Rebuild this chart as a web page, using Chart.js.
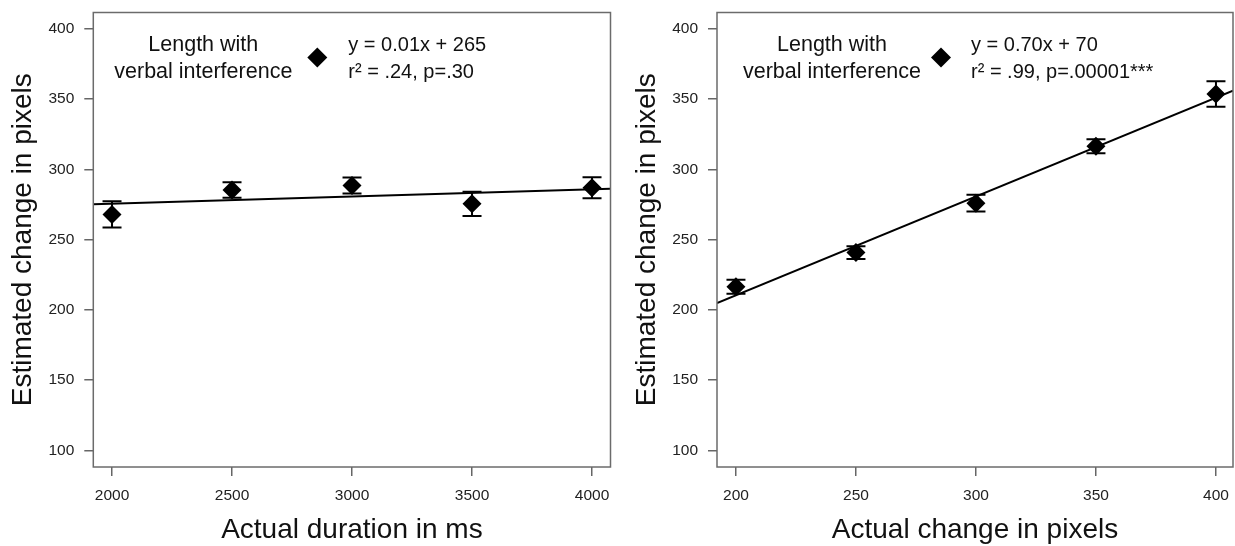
<!DOCTYPE html>
<html>
<head>
<meta charset="utf-8">
<script src="https://cdn.jsdelivr.net/npm/chart.js@4.4.1/dist/chart.umd.min.js"></script>
<style>
  body { margin: 0; background: #fff; }
  #wrap { position: relative; width: 1235px; height: 546px; }
  canvas { position: absolute; top: 0; }
</style>
</head>
<body>
<div id="wrap">
  <canvas id="durationChart" width="617" height="546" style="left:0"></canvas>
  <canvas id="pixelChart" width="618" height="546" style="left:617px"></canvas>
</div>
<script>
// Left panel - duration
const durationX = [2000, 2500, 3000, 3500, 4000];
const durationMean = [268, 285.4, 288.5, 275.5, 287];
const durationErr = [9.3, 5.5, 5.7, 8.7, 7.5];
const durationFitX = [1922, 4077];
const durationFitY = [275.2, 286.3];
const durationTicks = [2000, 2500, 3000, 3500, 4000];

// Right panel - length in pixels
const pixelX = [200, 250, 300, 350, 400];
const pixelMean = [216.5, 240.8, 276, 316.5, 353.7];
const pixelErr = [5, 4.5, 6, 5, 9];
const pixelFitX = [192.1, 407.1];
const pixelFitY = [204.8, 356];
const pixelTicks = [200, 250, 300, 350, 400];

// shared y axis
const estimateTicks = [100, 150, 200, 250, 300, 350, 400];

const legendLines = ['Length with', 'verbal interference'];
const durationEquation = ['y = 0.01x + 265', 'r\u00b2 = .24, p=.30'];
const pixelEquation = ['y = 0.70x + 70', 'r\u00b2 = .99, p=.00001***'];

Chart.defaults.font.family = '"Liberation Sans", Arial, Helvetica, sans-serif';
Chart.defaults.color = '#222';

const noPadding = () => ({ left: 0, top: 0, right: 0, bottom: 0 });

// error bars under the diamonds
const errorBars = {
    id: 'errorBars',
    beforeDatasetsDraw(chart) {
        const { ctx, scales: { x, y } } = chart;
        chart.data.datasets.forEach(ds => {
            if (!ds.errors) return;
            ctx.save();
            ctx.strokeStyle = '#000';
            ctx.lineWidth = 2;
            ds.data.forEach((p, i) => {
                const px = x.getPixelForValue(p.x);
                const top = y.getPixelForValue(p.y + ds.errors[i]);
                const bot = y.getPixelForValue(p.y - ds.errors[i]);
                ctx.beginPath();
                ctx.moveTo(px, top); ctx.lineTo(px, bot);
                ctx.moveTo(px - 9.5, top); ctx.lineTo(px + 9.5, top);
                ctx.moveTo(px - 9.5, bot); ctx.lineTo(px + 9.5, bot);
                ctx.stroke();
            });
            ctx.restore();
        });
    }
};

// box round the plot + the text legend
const frameAndLegend = {
    id: 'frameAndLegend',
    afterDraw(chart, args, opts) {
        const { ctx, chartArea: a } = chart;
        ctx.save();
        ctx.strokeStyle = '#6b6b6b';
        ctx.lineWidth = 1.5;
        ctx.strokeRect(a.left, a.top, a.right - a.left, a.bottom - a.top);

        ctx.fillStyle = '#111';
        ctx.textBaseline = 'middle';
        ctx.textAlign = 'center';
        ctx.font = '21.5px "Liberation Sans", Arial, sans-serif';
        ctx.fillText(legendLines[0], a.left + opts.textX, a.top + 32.5);
        ctx.fillText(legendLines[1], a.left + opts.textX, a.top + 59.5);
        ctx.textAlign = 'left';
        ctx.font = '20px "Liberation Sans", Arial, sans-serif';
        ctx.fillText(opts.equation[0], a.left + opts.eqX, a.top + 32.5);
        ctx.fillText(opts.equation[1], a.left + opts.eqX, a.top + 59.5);

        // diamond marker
        const mx = a.left + opts.markerX, my = a.top + 45, r = 10;
        ctx.fillStyle = '#000';
        ctx.beginPath();
        ctx.moveTo(mx, my - r);
        ctx.lineTo(mx + r, my);
        ctx.lineTo(mx, my + r);
        ctx.lineTo(mx - r, my);
        ctx.closePath();
        ctx.fill();
        ctx.restore();
    }
};

function makePanel(id, xs, means, errs, fitX, fitY, xTicks, xMin, xMax, xTitle, equation, axisWidth, titlePad, padRight, legendPos) {
    const points = xs.map((v, i) => ({ x: v, y: means[i] }));
    const fit = fitX.map((v, i) => ({ x: v, y: fitY[i] }));

    return new Chart(document.getElementById(id).getContext('2d'), {
        type: 'scatter',
        data: {
            datasets: [
                {
                    data: points,
                    errors: errs,
                    pointStyle: 'rectRot',
                    pointRadius: 9.5,
                    backgroundColor: '#000',
                    borderColor: '#000',
                    borderWidth: 0,
                },
                {
                    data: fit,
                    showLine: true,
                    borderColor: '#000',
                    borderWidth: 2,
                    pointRadius: 0,
                },
            ],
        },
        options: {
            responsive: false,
            animation: false,
            events: [],
            layout: { autoPadding: false, padding: { left: 0, top: 12.5, right: padRight, bottom: 0 } },
            plugins: {
                legend: { display: false },
                tooltip: { enabled: false },
                frameAndLegend: Object.assign({ equation: equation }, legendPos),
            },
            scales: {
                x: {
                    type: 'linear',
                    min: xMin,
                    max: xMax,
                    afterBuildTicks: s => { s.ticks = xTicks.map(v => ({ value: v })); },
                    afterFit: s => { s.height = 79; s.getPadding = noPadding; },
                    ticks: { font: { size: 15.5 }, color: '#222', padding: 10, callback: v => String(v) },
                    grid: { drawOnChartArea: false, tickLength: 9, color: '#666', lineWidth: 1.5 },
                    border: { display: false },
                    title: {
                        display: true,
                        text: xTitle,
                        color: '#111',
                        font: { size: 28, lineHeight: 1 },
                        padding: { top: 0, bottom: 2 },
                    },
                },
                y: {
                    type: 'linear',
                    min: 88.2,
                    max: 411.7,
                    afterBuildTicks: s => { s.ticks = estimateTicks.map(v => ({ value: v })); },
                    afterFit: s => { s.width = axisWidth; s.getPadding = noPadding; },
                    ticks: { font: { size: 15.5 }, color: '#222', padding: 10, callback: v => String(v) },
                    grid: { drawOnChartArea: false, tickLength: 9, color: '#666', lineWidth: 1.5 },
                    border: { display: false },
                    title: {
                        display: true,
                        text: 'Estimated change in pixels',
                        color: '#111',
                        font: { size: 28, lineHeight: 1 },
                        padding: { top: titlePad, bottom: 0 },
                    },
                },
            },
        },
        plugins: [errorBars, frameAndLegend],
    });
}

makePanel('durationChart', durationX, durationMean, durationErr, durationFitX, durationFitY,
    durationTicks, 1922, 4077, 'Actual duration in ms', durationEquation, 93.3, 9, 6.5,
    { textX: 110, markerX: 224, eqX: 255 });

makePanel('pixelChart', pixelX, pixelMean, pixelErr, pixelFitX, pixelFitY,
    pixelTicks, 192.1, 407.1, 'Actual change in pixels', pixelEquation, 100, 16, 2,
    { textX: 115, markerX: 224, eqX: 254 });
</script>
</body>
</html>
